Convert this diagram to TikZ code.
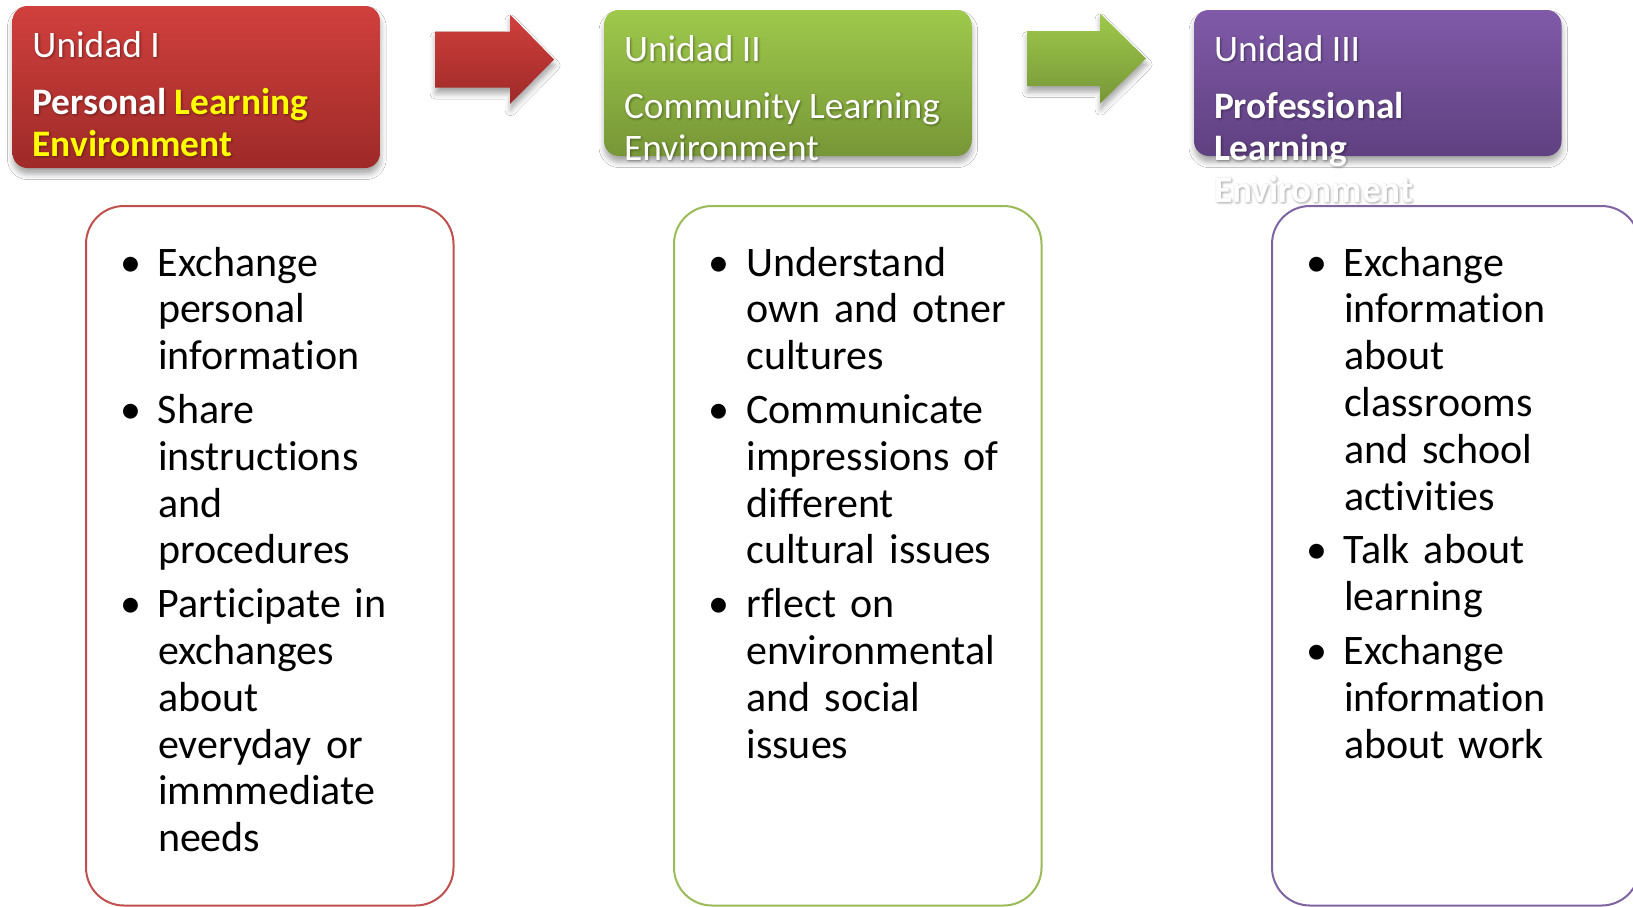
\documentclass[tikz,border=0pt]{standalone}
\usepackage{fontspec}
\setmainfont{Carlito}[Ligatures=NoCommon]
\usetikzlibrary{calc,shadows.blur}

% Office-style palette
\definecolor{redtop}{RGB}{208,64,61}
\definecolor{redbot}{RGB}{158,42,40}
\definecolor{redline}{RGB}{192,80,77}
\definecolor{greentop}{RGB}{158,201,75}
\definecolor{greenbot}{RGB}{119,150,55}
\definecolor{greenline}{RGB}{155,187,89}
\definecolor{purptop}{RGB}{128,90,168}
\definecolor{purpbot}{RGB}{95,64,128}
\definecolor{purpline}{RGB}{128,100,162}
\definecolor{hlyel}{RGB}{255,255,0}

\newcommand\yl[1]{\textcolor{hlyel}{#1}}
\newcommand\bul{\makebox[19pt][l]{\textbullet}}
\newcommand\ind{\hspace*{19pt}}

\tikzset{
  softshadow/.style={blur shadow={shadow xshift=0.3pt, shadow yshift=-3pt,
      shadow blur radius=2.8pt, shadow opacity=35}},
  hdrbox/.style={rectangle, rounded corners=7.5pt, inner sep=0pt, outer sep=0pt,
      anchor=north west, minimum width=183.75pt, softshadow},
  hdrred/.style={hdrbox, top color=redtop, bottom color=redbot, minimum height=81pt},
  hdrgreen/.style={hdrbox, top color=greentop, bottom color=greenbot, minimum height=73pt},
  hdrpurple/.style={hdrbox, top color=purptop, bottom color=purpbot, minimum height=73pt},
  hdrtext/.style={text=white, font=\fontsize{18.7pt}{21pt}\selectfont, inner sep=0pt,
      outer sep=0pt, anchor=base west},
  hdrshade/.style={hdrtext, text=black, text opacity=0.045,
      execute at begin node=\let\yl\relax},
  listbox/.style={rectangle, rounded corners=19pt, draw, line width=1pt, fill=white,
      anchor=north west, minimum width=183.75pt, minimum height=349.75pt, inner sep=0pt},
  listtext/.style={anchor=north west, inner sep=0pt, outer sep=0pt, text width=170pt,
      align=left, font=\fontsize{21pt}{23.4pt}\selectfont},
  blockarrow/.style={softshadow},
}

% one line of heading text with a soft drop shadow behind it
\newcommand\hdrline[3]{%
  \foreach \dx/\dy [count=\k] in {0/0.5,2/0.5,0/2.5,2/2.5,1/-0.5,1/3.5,-1/1.5,3/1.5,1/1.5}{%
    \node[hdrshade] (#1s\k) at ($(#2)+(\dx,\dy)$) {#3};
  }%
  \node[hdrtext] (#1) at (#2) {#3};
}

\begin{document}
\begin{tikzpicture}[x=0.5pt, y=-0.5pt]
\clip (0,0) rectangle (1633,906);
\fill[white] (0,0) rectangle (1633,906);

% list panels
\node[listbox, draw=redline]    (b1) at (85,205) {};
\node[listbox, draw=greenline]  (b2) at (673,205) {};
\node[listbox, draw=purpline]   (b3) at (1271,205) {};

% heading boxes
\node[hdrred]    (h1) at (12.5,6) {};
\node[hdrgreen]  (h2) at (604,10) {};
\node[hdrpurple] (h3) at (1194,10) {};

% block arrows between the headings
\path[blockarrow, top color=redtop, bottom color=redbot]
  (435,31.5) -- (510,31.5) -- (510,14.5) -- (554,59.5) -- (510,104) -- (510,87.5) -- (435,87.5) -- cycle;
\path[blockarrow, top color=greentop, bottom color=greenbot]
  (1027,31) -- (1100,31) -- (1100,13.5) -- (1146,58.5) -- (1100,103.5) -- (1100,86) -- (1027,86) -- cycle;
\coordinate (a1) at (554,59.5);
\coordinate (a2) at (1146,58.5);

% heading texts
\hdrline{t1a}{32.5,57}{Unidad I}
\hdrline{t1b}{32.5,114}{\bfseries Personal \yl{Learning}}
\hdrline{t1c}{32.5,156}{\bfseries\yl{Environment}}

\hdrline{t2a}{624,61}{Unidad II}
\hdrline{t2b}{624,118}{Community Learning}
\hdrline{t2c}{624,160}{Environment}

\hdrline{t3a}{1214,61}{Unidad III}
\hdrline{t3b}{1214,118}{\bfseries Professional}
\hdrline{t3c}{1214,160}{\bfseries Learning}
\hdrline{t3d}{1214,202}{\bfseries Environment}

% bullet lists
\node[listtext] (l1) at (120,243.25) {\strut\bul Exchange\\ \ind personal\\ \ind information\\[3.5pt]
  \bul Share\\ \ind instructions\\ \ind and\\ \ind procedures\\[3.5pt]
  \bul Participate in\\ \ind exchanges\\ \ind about\\ \ind everyday or\\ \ind immmediate\\ \ind needs};

\node[listtext] (l2) at (708.5,243.25) {\strut\bul Understand\\ \ind own and otner\\ \ind cultures\\[3.5pt]
  \bul Communicate\\ \ind impressions of\\ \ind different\\ \ind cultural issues\\[3.5pt]
  \bul rflect on\\ \ind environmental\\ \ind and social\\ \ind issues};

\node[listtext] (l3) at (1306,243.25) {\strut\bul Exchange\\ \ind information\\ \ind about\\ \ind classrooms\\ \ind and school\\ \ind activities\\[3.5pt]
  \bul Talk about\\ \ind learning\\[3.5pt]
  \bul Exchange\\ \ind information\\ \ind about work};
\end{tikzpicture}
\end{document}
